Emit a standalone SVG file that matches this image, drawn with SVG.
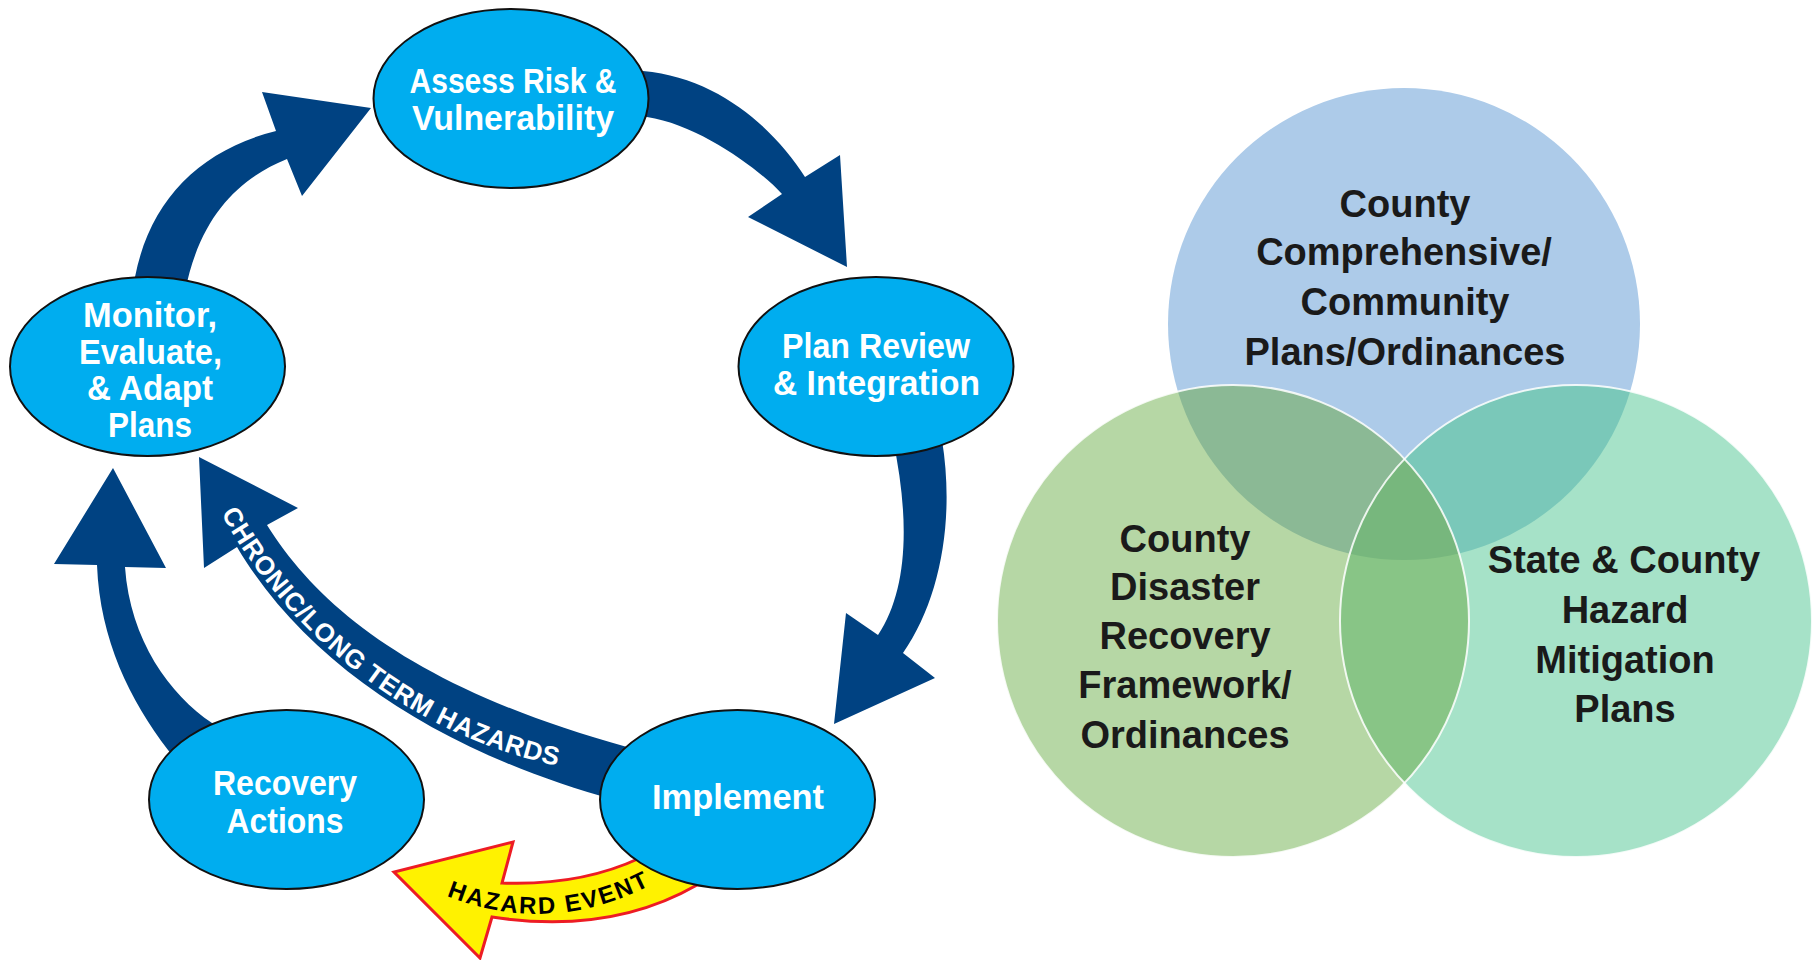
<svg xmlns="http://www.w3.org/2000/svg" width="1815" height="960" viewBox="0 0 1815 960">
<style>
.arrow{fill:#004282}
.node{fill:#00ADEF;stroke:#111;stroke-width:2}
.nt{font-family:"Liberation Sans",Arial,sans-serif;font-weight:bold;font-size:35px;fill:#fff;text-anchor:middle}
.ct{font-family:"Liberation Sans",Arial,sans-serif;font-weight:bold;font-size:26px;fill:#fff;letter-spacing:0.6px}
.hz{fill:#FFF200;stroke:#ED1C24;stroke-width:3;stroke-linejoin:miter}
.ht{font-family:"Liberation Sans",Arial,sans-serif;font-weight:bold;font-size:24px;fill:#000;letter-spacing:2px}
.vt{font-family:"Liberation Sans",Arial,sans-serif;font-weight:bold;font-size:38px;fill:#1a1a1a;text-anchor:middle}
.vo{fill:none;stroke:#fff;stroke-width:2;stroke-opacity:.85}
</style>
<defs>
<path id="chronicPath" d="M220.6,512.5 C277,617 395,735 568,768"/>
<path id="hazardPath" d="M440,893 Q555,942 667,876"/>
<clipPath id="cT"><circle cx="1404" cy="324" r="236"/></clipPath>
<clipPath id="cL"><circle cx="1233" cy="621" r="236"/></clipPath>
</defs>
<rect width="1815" height="960" fill="#fff"/>

<g id="connectors">
<path class="arrow" d="M133,292 L135,277 C150,200 200,150 276,131 L262,92 L371,108 L302,196 L287,159 C240,178 200,215 185,292 Z"/>
<path class="arrow" d="M625,72 L643,71 C720,78 775,130 805,177 L840,155 L847,267 L748,217 L782,194 C760,170 700,125 647,117 L625,118 Z"/>
<path class="arrow" d="M893,440 L942,440 C955,520 940,600 903,653 L935,678 L834,724 L846,613 L878,635 C908,590 910,520 893,440 Z"/>
<path class="arrow" d="M225,735 L212,723 C170,695 130,640 125,567 L166,568 L113,468 L54,564 L97,565 C100,640 130,700 168,750 L180,765 Z"/>
<path class="arrow" d="M267,525 C320,610 420,690 627,747 L650,752 L640,790 L615,800 C450,755 310,670 237,547 L204,568 L199,457 L298,508 Z"/>
<text class="ct"><textPath href="#chronicPath" startOffset="1">CHRONIC/LONG TERM HAZARDS</textPath></text>
<path class="hz" d="M660,866 L640,858 Q580,886 502,883 L513,842 L394,872 L480,958 L492,917 Q610,935 697,885 L710,885 Z"/>
<text class="ht"><textPath href="#hazardPath" startOffset="7">HAZARD EVENT</textPath></text>
</g>

<g id="node-assess">
<ellipse class="node" cx="511" cy="98.5" rx="137.5" ry="89.5"/>
<text class="nt" x="513" y="93" textLength="207" lengthAdjust="spacingAndGlyphs">Assess Risk &amp;</text>
<text class="nt" x="513" y="130" textLength="202" lengthAdjust="spacingAndGlyphs">Vulnerability</text>
</g>
<g id="node-monitor">
<ellipse class="node" cx="147.5" cy="366.5" rx="137.5" ry="89.5"/>
<text class="nt" x="150" y="327" textLength="134" lengthAdjust="spacingAndGlyphs">Monitor,</text>
<text class="nt" x="150.5" y="364" textLength="143" lengthAdjust="spacingAndGlyphs">Evaluate,</text>
<text class="nt" x="150" y="400" textLength="126" lengthAdjust="spacingAndGlyphs">&amp; Adapt</text>
<text class="nt" x="150" y="437" textLength="84" lengthAdjust="spacingAndGlyphs">Plans</text>
</g>
<g id="node-planreview">
<ellipse class="node" cx="876" cy="366.5" rx="137.5" ry="89.5"/>
<text class="nt" x="876" y="358" textLength="188" lengthAdjust="spacingAndGlyphs">Plan Review</text>
<text class="nt" x="876.5" y="395" textLength="207" lengthAdjust="spacingAndGlyphs">&amp; Integration</text>
</g>
<g id="node-recovery">
<ellipse class="node" cx="286.5" cy="799.5" rx="137.5" ry="89.5"/>
<text class="nt" x="285" y="795" textLength="144" lengthAdjust="spacingAndGlyphs">Recovery</text>
<text class="nt" x="285" y="833" textLength="117" lengthAdjust="spacingAndGlyphs">Actions</text>
</g>
<g id="node-implement">
<ellipse class="node" cx="737.5" cy="799.5" rx="137.5" ry="89.5"/>
<text class="nt" x="738" y="809" textLength="172" lengthAdjust="spacingAndGlyphs">Implement</text>
</g>

<g id="venn">
<circle cx="1404" cy="324" r="236" fill="#ADCBE9"/>
<circle cx="1233" cy="621" r="236" fill="#B6D7A5"/>
<circle cx="1576" cy="621" r="236" fill="#A6E2C8"/>
<g clip-path="url(#cT)">
<circle cx="1233" cy="621" r="236" fill="#8BB995"/>
<circle cx="1576" cy="621" r="236" fill="#7AC8B9"/>
</g>
<g clip-path="url(#cL)">
<circle cx="1576" cy="621" r="236" fill="#88C586"/>
<g clip-path="url(#cT)"><circle cx="1576" cy="621" r="236" fill="#77B77D"/></g>
</g>
<circle class="vo" cx="1233" cy="621" r="236"/>
<circle class="vo" cx="1576" cy="621" r="236"/>
</g>
<g id="node-county-comprehensive">
<text class="vt" x="1405" y="217">County</text>
<text class="vt" x="1404" y="265">Comprehensive/</text>
<text class="vt" x="1405" y="315">Community</text>
<text class="vt" x="1405" y="365">Plans/Ordinances</text>
</g>
<g id="node-county-disaster">
<text class="vt" x="1185" y="552">County</text>
<text class="vt" x="1185" y="600">Disaster</text>
<text class="vt" x="1185" y="649">Recovery</text>
<text class="vt" x="1185" y="698">Framework/</text>
<text class="vt" x="1185" y="748">Ordinances</text>
</g>
<g id="node-hazard-mitigation">
<text class="vt" x="1624" y="573">State &amp; County</text>
<text class="vt" x="1625" y="623">Hazard</text>
<text class="vt" x="1625" y="673">Mitigation</text>
<text class="vt" x="1625" y="722">Plans</text>
</g>
</svg>
